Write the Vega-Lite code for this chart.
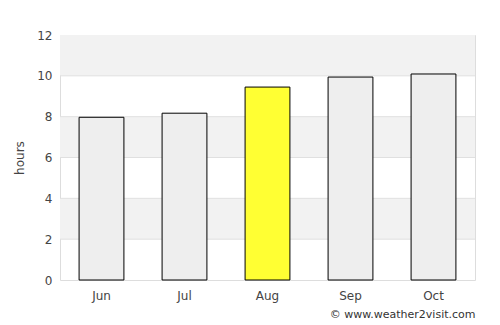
{
  "$schema": "https://vega.github.io/schema/vega-lite/v6.json",
  "width": 415,
  "height": 245,
  "autosize": "none",
  "padding": {"left": 60, "top": 35, "right": 25, "bottom": 45},
  "background": "white",
  "config": {
    "font": "DejaVu Sans",
    "view": {"stroke": "#dddddd", "strokeWidth": 1}
  },
  "title": {
    "text": "© www.weather2visit.com",
    "orient": "bottom",
    "anchor": "end",
    "fontSize": 11,
    "fontWeight": "normal",
    "color": "#333333",
    "offset": 8,
    "font": "DejaVu Sans"
  },
  "datasets": {
    "months": [
      {"month": "Jun", "hours": 7.97, "highlight": "no"},
      {"month": "Jul", "hours": 8.17, "highlight": "no"},
      {"month": "Aug", "hours": 9.45, "highlight": "yes"},
      {"month": "Sep", "hours": 9.94, "highlight": "no"},
      {"month": "Oct", "hours": 10.09, "highlight": "no"}
    ],
    "bands": [
      {"from": 10, "to": 12},
      {"from": 6, "to": 8},
      {"from": 2, "to": 4}
    ],
    "grid": [{"v": 2}, {"v": 4}, {"v": 6}, {"v": 8}, {"v": 10}]
  },
  "layer": [
    {
      "data": {"name": "bands"},
      "mark": {"type": "rect", "color": "#f2f2f2"},
      "encoding": {
        "y": {"field": "from", "type": "quantitative", "scale": {"domain": [0, 12]}},
        "y2": {"field": "to"}
      }
    },
    {
      "data": {"name": "grid"},
      "mark": {"type": "rule", "color": "#e0e0e0", "strokeWidth": 1},
      "encoding": {
        "y": {"field": "v", "type": "quantitative"}
      }
    },
    {
      "data": {"name": "months"},
      "mark": {"type": "bar", "stroke": "black", "strokeWidth": 1},
      "encoding": {
        "x": {
          "field": "month",
          "type": "nominal",
          "sort": null,
          "scale": {"paddingInner": 0.46, "paddingOuter": 0.23},
          "axis": {
            "title": null,
            "labelAngle": 0,
            "ticks": false,
            "domain": false,
            "labelPadding": 10,
            "labelFontSize": 12,
            "labelColor": "#444444"
          }
        },
        "y": {
          "field": "hours",
          "type": "quantitative",
          "scale": {"domain": [0, 12]},
          "axis": {
            "title": "hours",
            "values": [0, 2, 4, 6, 8, 10, 12],
            "grid": false,
            "ticks": false,
            "domain": false,
            "labelPadding": 8,
            "labelFontSize": 12,
            "labelColor": "#444444",
            "titleFontSize": 12,
            "titleFontWeight": "normal",
            "titleColor": "#444444",
            "titlePadding": 10
          }
        },
        "fill": {
          "field": "highlight",
          "type": "nominal",
          "scale": {"domain": ["no", "yes"], "range": ["#eeeeee", "#ffff33"]},
          "legend": null
        }
      }
    }
  ]
}
